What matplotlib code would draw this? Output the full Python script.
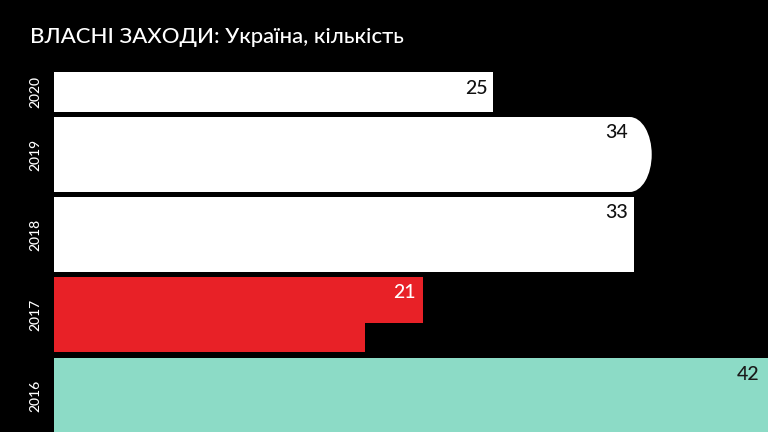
"""Bar chart: власні заходи, Україна, кількість за роками."""

import matplotlib
matplotlib.use("Agg")
import matplotlib.pyplot as plt
from matplotlib.patches import Ellipse
from matplotlib.transforms import blended_transform_factory

# data
years = ["2020", "2019", "2018", "2017", "2016"]
counts = [25, 34, 33, 21, 42]
step_2017 = 17.7  # shorter lower part of the 2017 bar

# layout (pixels, from top of plot area)
W, H = 768, 432
px_per_unit = 17.58
bar_tops = [0, 45, 125, 205, 286]
bar_heights = [40, 75, 75, 75, 75]
colors = ["#ffffff", "#ffffff", "#ffffff", "#e82127", "#8cdbc6"]
label_colors = ["#111111", "#111111", "#111111", "#ffffff", "#1a1a1a"]
round_r = 22  # horizontal radius of the rounded 2019 end, px

plt.rcParams["font.family"] = ["Lato", "Noto Sans", "DejaVu Sans"]
plt.rcParams["font.weight"] = "medium"

fig = plt.figure(figsize=(W / 100, H / 100), dpi=100, facecolor="black")
ax = fig.add_axes([54 / W, 0, (W - 54) / W, 360 / H])
ax.set_facecolor("black")
xmax = (W - 54) / px_per_unit
ax.set_xlim(0, xmax)
ax.set_ylim(360, 0)
ax.axis("off")

for i, (year, val) in enumerate(zip(years, counts)):
    top, h = bar_tops[i], bar_heights[i]
    if year == "2019":
        rw = round_r / px_per_unit
        ax.barh(top, val - rw, height=h, align="edge", color=colors[i], lw=0)
        ax.add_patch(Ellipse((val - rw, top + h / 2), 2 * rw, h,
                             color=colors[i], lw=0))
        dx = -24
    elif year == "2017":
        ax.barh(top, step_2017, height=h, align="edge", color=colors[i], lw=0)
        ax.barh(top, val, height=46, align="edge", color=colors[i], lw=0)
        dx = -7
    else:
        ax.barh(top, val, height=h, align="edge", color=colors[i], lw=0)
        dx = -6
    # bar running past the edge gets its label at the visible end
    xlab = min(val, xmax)
    if val > xmax:
        dx = -9
    ax.annotate(str(val), xy=(xlab, top), xytext=(dx, -16),
                textcoords="offset pixels", ha="right", va="center",
                fontsize=14, color=label_colors[i], annotation_clip=False)

# year labels on the left
trans = blended_transform_factory(fig.transFigure, ax.transData)
for i, year in enumerate(years):
    ax.text(35 / W, bar_tops[i] + bar_heights[i] / 2, year, transform=trans,
            rotation=90, ha="center", va="center", fontsize=10, color="white")

fig.text(30 / W, 1 - 37 / H, "ВЛАСНІ ЗАХОДИ: Україна, кількість",
         ha="left", va="center", fontsize=15.9, color="white")

fig.savefig("out.png", dpi=100, facecolor="black")
